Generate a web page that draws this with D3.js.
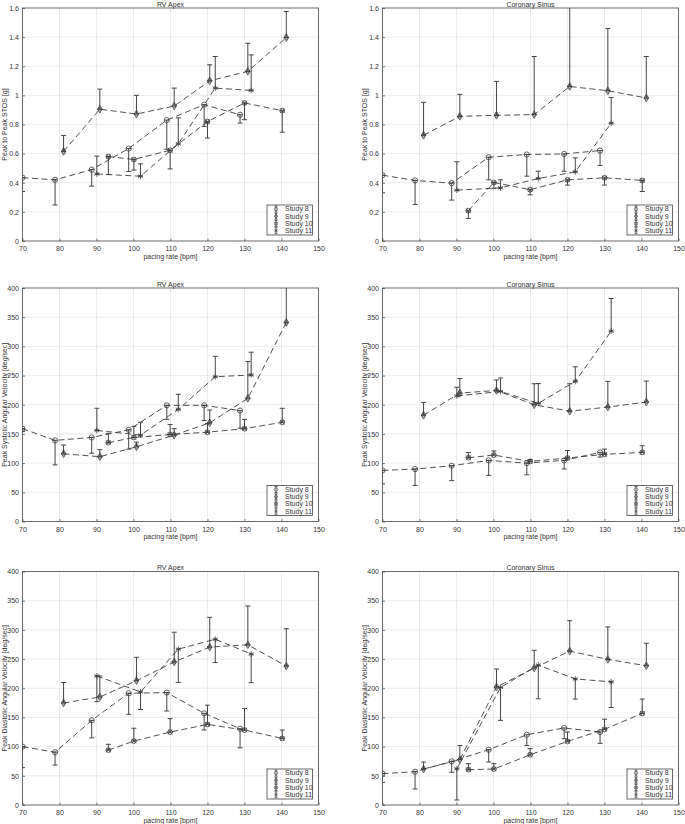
<!DOCTYPE html>
<html>
<head>
<meta charset="utf-8">
<script src="https://cdn.jsdelivr.net/npm/d3@7"></script>
<style>
  html, body { margin: 0; padding: 0; background: #fff; }
  svg { display: block; }
  text { font-family: "Liberation Sans", Arial, sans-serif; fill: #333; }
</style>
</head>
<body>
<svg id="chart" width="685" height="824"></svg>
<script>
// ---------------- DATA ----------------
const studies = ["Study 8", "Study 9", "Study 10", "Study 11"];
const xTicks = [70, 80, 90, 100, 110, 120, 130, 140, 150];
const stosTicks = [0, 0.2, 0.4, 0.6, 0.8, 1, 1.2, 1.4, 1.6];
const velTicks = [0, 50, 100, 150, 200, 250, 300, 350, 400];

// pacing rates per study [bpm]
const rateS8  = [70, 78.8, 88.7, 98.7, 109, 119.1, 128.8];
const rateS9  = [81.1, 90.9, 100.8, 111.0, 120.6, 130.9, 141.3];
const rateS10 = [93.2, 100.1, 109.9, 120.0, 130.0, 140.2];
const rateS11 = [90.1, 101.9, 112.1, 122.1, 131.8];

// Peak to Peak STOS [g] - RV Apex (mean, one-sided error: + up, - down)
const rvStosMean = [
  [0.435, 0.42, 0.49, 0.635, 0.83, 0.936, 0.867],
  [0.615, 0.905, 0.872, 0.927, 1.1, 1.165, 1.397],
  [0.58, 0.56, 0.623, 0.82, 0.948, 0.895],
  [0.46, 0.445, 0.667, 1.05, 1.034]
];
const rvStosErr = [
  [-0.095, -0.173, -0.113, -0.158, -0.2, -0.149, -0.057],
  [0.11, 0.138, 0.128, 0.123, 0.11, 0.193, 0.179],
  [-0.123, -0.073, -0.128, -0.113, -0.115, -0.148],
  [0.123, 0.085, 0.178, 0.217, 0.244]
];
// Peak to Peak STOS [g] - Coronary Sinus
const csStosMean = [
  [0.452, 0.416, 0.397, 0.575, 0.594, 0.598, 0.621],
  [0.726, 0.856, 0.863, 0.868, 1.061, 1.032, 0.982],
  [0.208, 0.402, 0.352, 0.42, 0.434, 0.416],
  [0.349, 0.365, 0.429, 0.475, 0.808]
];
const csStosErr = [
  [-0.121, -0.165, -0.116, -0.155, -0.149, -0.119, -0.103],
  [0.226, 0.151, 0.233, 0.399, 0.7, 0.427, 0.285],
  [-0.053, -0.04, -0.035, -0.036, -0.05, -0.076],
  [0.195, 0.055, 0.05, 0.096, 0.178]
];
// Peak Systolic Angular Velocity [deg/sec] - RV Apex
const rvSysMean = [
  [159, 139, 144, 157, 199, 199, 190],
  [116, 111, 128, 148, 169, 211, 341],
  [135, 144, 149, 153, 159, 170],
  [156, 148, 192, 248, 251]
];
const rvSysErr = [
  [-5, -42, -27, -33, -24, -26, -30],
  [15, 12, 8, 11, 22, 63, 90],
  [16, 19, 17, 15, 16, 24],
  [38, 22, 26, 35, 39]
];
// Peak Systolic Angular Velocity [deg/sec] - Coronary Sinus
const csSysMean = [
  [87.5, 89.8, 95.5, 104.7, 100, 104.7, 118.4],
  [182, 220, 224.5, 200, 189, 196, 204.6],
  [109.2, 113.8, 103, 108.7, 115, 118.4],
  [215, 222.8, 202.3, 240, 326]
];
const csSysErr = [
  [-23, -28, -25.5, -25.7, -20, -14.7, -8],
  [22, 25, 18, 36, 47, 44, 36],
  [9, 7, 3, 13, 9, 11.4],
  [15, 23, 34, 25, 56]
];
// Peak Diastolic Angular Velocity [deg/sec] - RV Apex
const rvDiaMean = [
  [100, 90.4, 145, 191.4, 192.6, 157, 130.7],
  [174.8, 185, 213, 245, 270.5, 274.5, 238],
  [94, 109.5, 125, 138, 128.4, 114],
  [221, 193.7, 267, 284, 258.6]
];
const rvDiaErr = [
  [-36, -22, -30, -36, -31.6, -28.6, -32.7],
  [35, 36, 40, 51, 51, 66.5, 64],
  [10, 22, 23, 33, 37, 14.4],
  [-44, -30, -57, -40, -49]
];
// Peak Diastolic Angular Velocity [deg/sec] - Coronary Sinus
const csDiaMean = [
  [53.7, 57, 74.8, 94.7, 120.4, 132, 125],
  [61.6, 77.6, 202, 234.6, 263.7, 249.4, 238.6],
  [60.5, 61.6, 86, 109, 129.6, 157],
  [62, 201.5, 239.7, 216, 211]
];
const csDiaErr = [
  [-15, -29.6, -18.8, -21, -18.4, -18.4, -19.4],
  [12, 24.4, 31, 30.4, 52, 55.6, 38.4],
  [10.3, 9.2, 10.5, 16, 17.4, 24.5],
  [-53.4, -56.5, -57.7, -34.5, -44]
];

const titles = ["RV Apex", "Coronary Sinus"];
const yLabels = ["Peak to Peak STOS [g]",
                 "Peak Systolic Angular Velocity [deg/sec]",
                 "Peak Diastolic Angular Velocity [deg/sec]"];
const xLabel = "pacing rate [bpm]";

// ---------------- LAYOUT ----------------
const rates = [rateS8, rateS9, rateS10, rateS11];
const panels = [
  { row: 0, col: 0, mean: rvStosMean, err: rvStosErr, domain: [0, 1.6], ticks: stosTicks },
  { row: 0, col: 1, mean: csStosMean, err: csStosErr, domain: [0, 1.6], ticks: stosTicks },
  { row: 1, col: 0, mean: rvSysMean, err: rvSysErr, domain: [0, 400], ticks: velTicks },
  { row: 1, col: 1, mean: csSysMean, err: csSysErr, domain: [0, 400], ticks: velTicks },
  { row: 2, col: 0, mean: rvDiaMean, err: rvDiaErr, domain: [0, 400], ticks: velTicks },
  { row: 2, col: 1, mean: csDiaMean, err: csDiaErr, domain: [0, 400], ticks: velTicks }
];
const cols = [{ x0: 22.5, x1: 318.5 }, { x0: 382.5, x1: 678.5 }];
const rows = [{ y0: 8, y1: 241 }, { y0: 288, y1: 521.5 }, { y0: 571.5, y1: 805 }];

const lineColor = "#3c3c3c";
const fontSize = 7;

const svg = d3.select("#chart");
svg.append("rect").attr("width", 685).attr("height", 824).attr("fill", "#fff");

// marker drawing
function drawMarker(g, k, cx, cy) {
  const m = g.append("g").attr("transform", `translate(${cx},${cy})`)
    .attr("fill", "none").attr("stroke", lineColor).attr("stroke-width", 0.8);
  if (k === 0) {
    m.append("circle").attr("r", 2.6);
  } else if (k === 1) {
    m.append("path").attr("d", d3.symbol().type(d3.symbolDiamond).size(17)());
    m.append("path").attr("d", d3.symbol().type(d3.symbolCross).size(8)()).attr("stroke-width", 0.5);
  } else if (k === 2) {
    m.append("circle").attr("r", 2.4);
    m.append("path").attr("d", d3.symbol().type(d3.symbolTimes || d3.symbolX || d3.symbolCross).size(14)());
  } else {
    m.append("path").attr("d", d3.symbol().type(d3.symbolAsterisk || d3.symbolCross).size(22)());
  }
}

panels.forEach((p, pi) => {
  const c = cols[p.col], r = rows[p.row];
  const x = d3.scaleLinear().domain([70, 150]).range([c.x0, c.x1]);
  const y = d3.scaleLinear().domain(p.domain).range([r.y1, r.y0]);
  const g = svg.append("g");

  // grid
  g.append("g").selectAll("line.vg").data(xTicks.slice(1, -1)).join("line")
    .attr("x1", d => x(d)).attr("x2", d => x(d)).attr("y1", r.y0).attr("y2", r.y1)
    .attr("stroke", "#e2e2e2").attr("stroke-width", 0.7);
  g.append("g").selectAll("line.hg").data(p.ticks.slice(1, -1)).join("line")
    .attr("x1", c.x0).attr("x2", c.x1).attr("y1", d => y(d)).attr("y2", d => y(d))
    .attr("stroke", "#e2e2e2").attr("stroke-width", 0.7);

  // axes
  const xa = g.append("g").attr("transform", `translate(0,${r.y1})`)
    .call(d3.axisBottom(x).tickValues(xTicks).tickSizeInner(-2.5).tickSizeOuter(0).tickPadding(5.5));
  const ya = g.append("g").attr("transform", `translate(${c.x0},0)`)
    .call(d3.axisLeft(y).tickValues(p.ticks).tickFormat(d3.format("~g")).tickSizeInner(-2.5).tickSizeOuter(0).tickPadding(3.5));
  [xa, ya].forEach(a => {
    a.select(".domain").remove();
    a.selectAll("line").attr("stroke", "#444").attr("stroke-width", 0.7);
    a.selectAll("text").attr("font-size", fontSize).attr("fill", "#333")
      .style("font-family", '"Liberation Sans", Arial, sans-serif');
  });

  // clip
  const cid = "clip" + pi;
  svg.append("clipPath").attr("id", cid).append("rect")
    .attr("x", c.x0).attr("y", r.y0).attr("width", c.x1 - c.x0).attr("height", r.y1 - r.y0);
  const plot = g.append("g").attr("clip-path", `url(#${cid})`);

  // series
  p.mean.forEach((vals, k) => {
    const pts = vals.map((v, i) => ({ x: rates[k][i], y: v, e: p.err[k][i] }));
    // error bars
    const eb = plot.append("g").attr("stroke", "#444").attr("stroke-width", 1);
    pts.forEach(d => {
      const yEnd = d.y + d.e;
      eb.append("line").attr("x1", x(d.x)).attr("x2", x(d.x)).attr("y1", y(d.y)).attr("y2", y(yEnd));
      eb.append("line").attr("x1", x(d.x) - 2.5).attr("x2", x(d.x) + 2.5).attr("y1", y(yEnd)).attr("y2", y(yEnd));
      eb.append("line").attr("x1", x(d.x) - 2.5).attr("x2", x(d.x) + 2.5).attr("y1", y(d.y)).attr("y2", y(d.y));
    });
    // dashed line
    plot.append("path").datum(pts)
      .attr("d", d3.line().x(d => x(d.x)).y(d => y(d.y)))
      .attr("fill", "none").attr("stroke", lineColor).attr("stroke-width", 0.9)
      .attr("stroke-dasharray", "6,3.5");
    // markers
    pts.forEach(d => drawMarker(plot, k, x(d.x), y(d.y)));
  });

  // frame
  g.append("rect").attr("x", c.x0).attr("y", r.y0).attr("width", c.x1 - c.x0).attr("height", r.y1 - r.y0)
    .attr("fill", "none").attr("stroke", "#444").attr("stroke-width", 0.8);

  // title
  g.append("text").attr("x", (c.x0 + c.x1) / 2).attr("y", r.y0 - 1.5)
    .attr("text-anchor", "middle").attr("font-size", fontSize).text(titles[p.col]);
  // x label
  g.append("text").attr("x", (c.x0 + c.x1) / 2).attr("y", r.y1 + 17.5)
    .attr("text-anchor", "middle").attr("font-size", fontSize).text(xLabel);
  // y label
  g.append("text").attr("transform", `translate(${c.x0 - 17.7},${(r.y0 + r.y1) / 2}) rotate(-90)`)
    .attr("text-anchor", "middle").attr("dy", "0.35em").attr("font-size", fontSize).text(yLabels[p.row]);

  // legend
  const lx0 = c.x1 - 51.5, lx1 = c.x1 - 6, ly0 = r.y1 - 36, ly1 = r.y1 - 6;
  const lg = g.append("g");
  lg.append("rect").attr("x", lx0).attr("y", ly0).attr("width", lx1 - lx0).attr("height", ly1 - ly0)
    .attr("fill", "#fff").attr("stroke", "#444").attr("stroke-width", 0.8);
  studies.forEach((s, k) => {
    const cy = ly0 + 4 + k * 7.25;
    const gx = c.x1 - 42.5;
    lg.append("line").attr("x1", gx).attr("x2", gx).attr("y1", cy - 3).attr("y2", cy + 3)
      .attr("stroke", "#444").attr("stroke-width", 0.9);
    lg.append("line").attr("x1", gx - 1.5).attr("x2", gx + 1.5).attr("y1", cy - 3).attr("y2", cy - 3)
      .attr("stroke", "#444").attr("stroke-width", 0.8);
    lg.append("line").attr("x1", gx - 1.5).attr("x2", gx + 1.5).attr("y1", cy + 3).attr("y2", cy + 3)
      .attr("stroke", "#444").attr("stroke-width", 0.8);
    const mg = lg.append("g").attr("transform", `translate(${gx},${cy}) scale(0.7)`);
    drawMarker(mg, k, 0, 0);
    lg.append("text").attr("x", c.x1 - 33.5).attr("y", cy).attr("dy", "0.35em")
      .attr("font-size", fontSize).text(s);
  });
});
</script>
</body>
</html>
